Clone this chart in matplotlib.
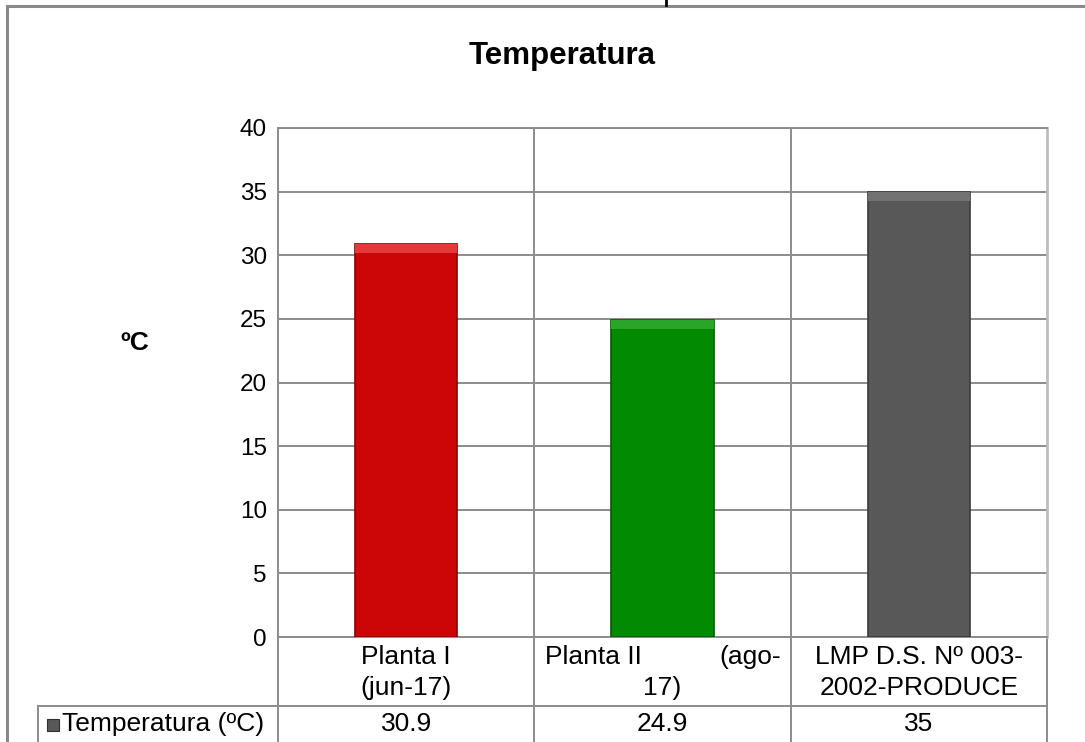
import matplotlib
matplotlib.use("Agg")
import matplotlib.pyplot as plt
from matplotlib.lines import Line2D
from matplotlib.patches import Rectangle

plt.rcParams['font.family'] = ['Liberation Sans', 'DejaVu Sans']

# ---- data ----
title = "Temperatura"
ylabel = "ºC"
series_name = "Temperatura (ºC)"
categories = ["Planta I\n(jun-17)", "Planta II (ago-17)", "LMP D.S. Nº 003-\n2002-PRODUCE"]
values = [30.9, 24.9, 35]
value_labels = ["30.9", "24.9", "35"]
bar_colors = ["#CC0606", "#038A03", "#585858"]
top_colors = ["#E23A3A", "#2AA52A", "#727272"]
edge_colors = ["#8A0000", "#025A02", "#3A3A3A"]
yticks = [0, 5, 10, 15, 20, 25, 30, 35, 40]

W, H = 1085, 742
fig = plt.figure(figsize=(W / 100, H / 100), dpi=100)

def fx(px):
    return px / W

def fy(py):
    return 1 - py / H

# axes area: x 278-1047, y 128-637 (pixels)
ax = fig.add_axes([fx(278), fy(637), fx(1047) - fx(278), fy(128) - fy(637)])
x = list(range(len(categories)))
ax.bar(x, values, width=0.40, color=bar_colors, edgecolor=edge_colors,
       linewidth=1.2, zorder=3)
# bevel highlight on bar tops
band = 0.7
ax.bar(x, [band] * len(values), bottom=[v - band for v in values], width=0.40,
       color=top_colors, linewidth=0, zorder=4)
ax.set_xlim(-0.5, len(categories) - 0.5)
ax.set_ylim(0, 40)
ax.set_yticks(yticks)
ax.set_yticklabels([str(t) for t in yticks], fontsize=17.5)
ax.set_xticks([])
ax.tick_params(axis='y', length=0, pad=8)
grid_c = "#8c8c8c"
ax.yaxis.grid(True, color=grid_c, linewidth=1.4, zorder=0)
for b in [0.5, 1.5]:
    ax.axvline(b, color=grid_c, linewidth=1.4, zorder=0)
for s in ['left', 'bottom', 'top']:
    ax.spines[s].set_color(grid_c)
    ax.spines[s].set_linewidth(1.4)
ax.spines['right'].set_color("#bdbdbd")
ax.spines['right'].set_linewidth(2.0)

# ---- title & y label ----
fig.text(fx(562), fy(56), title, fontsize=22.5, fontweight='bold',
         ha='center', va='center')
fig.text(fx(135), fy(343), ylabel, fontsize=19, fontweight='bold',
         ha='center', va='center')

# ---- data table below ----
tr = ax.get_xaxis_transform()
ax_h = 637 - 128
def ay(py):
    return -(py - 637) / ax_h

row_line = ay(706)
bottom = ay(760)
for b in [-0.5, 0.5, 1.5, 2.5]:
    ax.add_line(Line2D([b, b], [0, bottom], transform=tr, color=grid_c,
                       linewidth=1.4, clip_on=False))
lx = (38 - 278) / 769
ax.add_line(Line2D([lx, 1.0], [row_line, row_line],
                   transform=ax.transAxes, color=grid_c, linewidth=1.4,
                   clip_on=False))
ax.add_line(Line2D([lx, lx], [row_line, bottom],
                   transform=ax.transAxes, color=grid_c, linewidth=1.4,
                   clip_on=False))

fs_tab = 19
px_per_unit = 769 / 3
# category labels (two lines each)
c1a, c1b = categories[0].split("\n")
ax.text(0, ay(657), c1a, transform=tr, ha='center', va='center', fontsize=fs_tab)
ax.text(0, ay(688), c1b, transform=tr, ha='center', va='center', fontsize=fs_tab)
p2a, p2b = categories[1].split(" (")
ax.text(0.5 + (547 - 536) / px_per_unit, ay(657), p2a, transform=tr,
        ha='left', va='center', fontsize=fs_tab)
ax.text(1.5 - (790 - 780) / px_per_unit, ay(657), "(" + p2b.split("-")[0] + "-",
        transform=tr, ha='right', va='center', fontsize=fs_tab)
ax.text(1, ay(688), p2b.split("-")[1], transform=tr, ha='center',
        va='center', fontsize=fs_tab)
c3a, c3b = categories[2].split("\n")
ax.text(2, ay(657), c3a, transform=tr, ha='center', va='center', fontsize=fs_tab)
ax.text(2, ay(688), c3b, transform=tr, ha='center', va='center', fontsize=fs_tab)

# value row
for i, v in enumerate(value_labels):
    ax.text(i, ay(724), v, transform=tr, ha='center', va='center',
            fontsize=fs_tab)
ax.text((62 - 278) / 769, ay(724), series_name, transform=ax.transAxes,
        ha='left', va='center', fontsize=fs_tab)
ax.add_patch(Rectangle(((47 - 278) / 769, ay(731)), 12 / 769, 12 / ax_h,
                       transform=ax.transAxes, facecolor=bar_colors[2],
                       edgecolor="#303030", linewidth=0.8, clip_on=False))

# ---- outer frame ----
fig.add_artist(Line2D([fx(7), fx(7)], [0, fy(6)], color="#8a8a8a", linewidth=2.2))
fig.add_artist(Line2D([fx(7), 1], [fy(6), fy(6)], color="#8a8a8a", linewidth=2.2))
fig.add_artist(Line2D([fx(666), fx(666)], [fy(5), 1], color="black", linewidth=2))

fig.savefig("out.png", dpi=100)
